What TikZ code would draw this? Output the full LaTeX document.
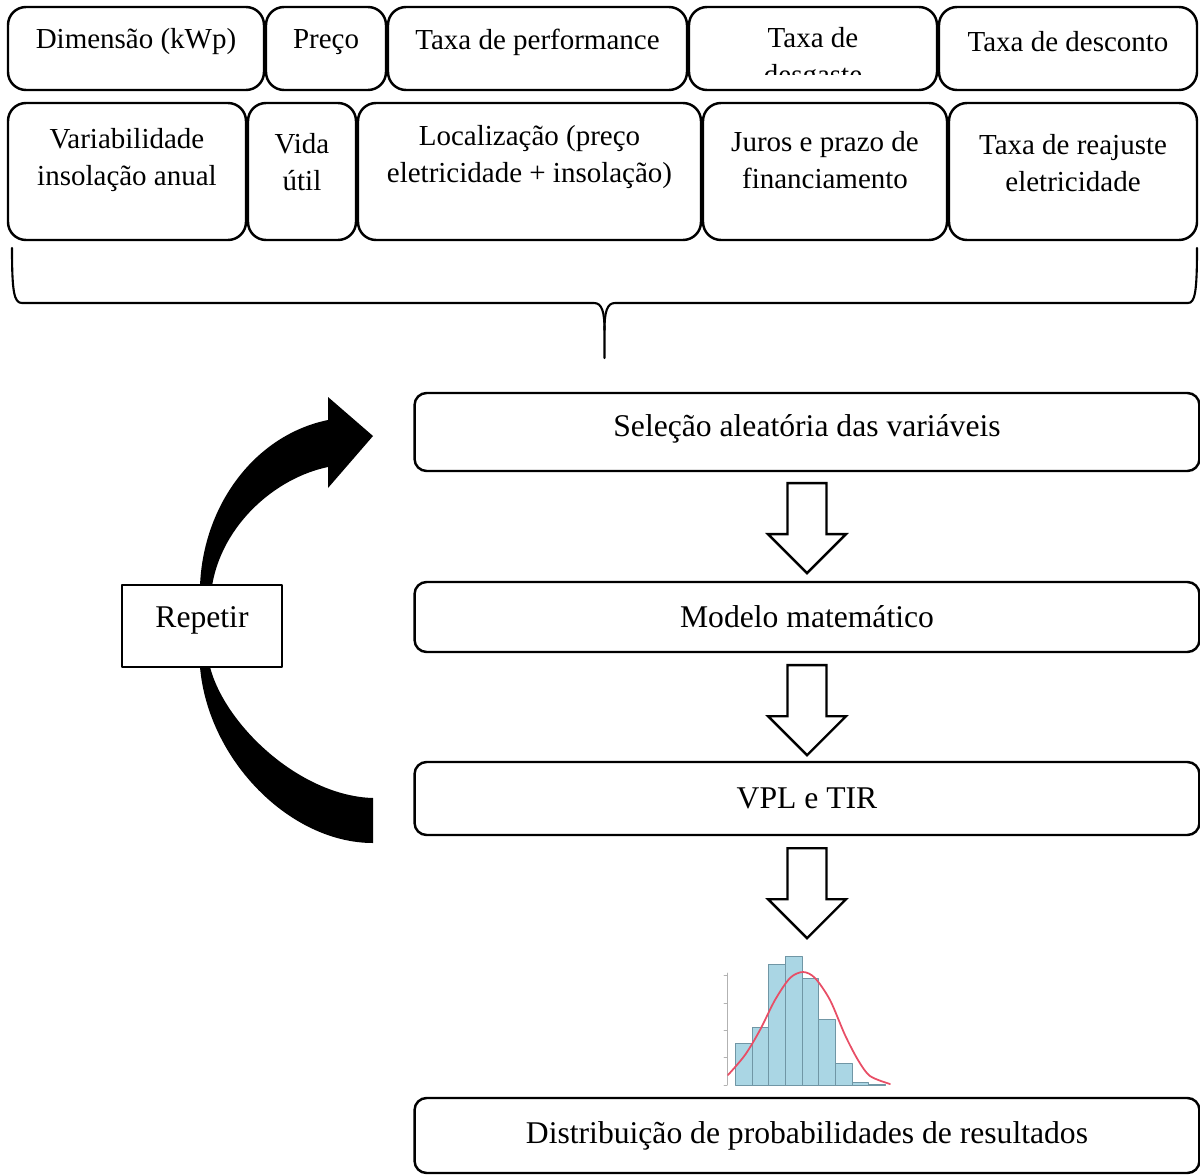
\documentclass[tikz,border=0pt]{standalone}
\usepackage{fontspec}
\setmainfont{Liberation Serif}
\usetikzlibrary{calc}
\definecolor{barblue}{RGB}{170,214,228}
\definecolor{baredge}{RGB}{112,150,165}
\definecolor{curvered}{RGB}{232,78,102}
\tikzset{
  box/.style={draw, line width=1.4pt, rounded corners=0.36cm},
  lbl/.style={align=center, font=\fontsize{16.5}{21}\selectfont, inner sep=0pt},
  stage/.style={draw, line width=1.4pt, rounded corners=0.24cm, minimum width=15.7cm, font=\fontsize{18}{22}\selectfont},
  hollow/.style={draw, line width=1.4pt, fill=white, line join=miter},
  blockarr/.pic={\draw[hollow] (-19.5,0)--(-19.5,51)--(-39,51)--(0,90)--(39,51)--(19.5,51)--(19.5,0)--cycle;}
}
\begin{document}
\begin{tikzpicture}[x=0.02cm, y=-0.02cm, line cap=round, line join=round]
\useasboundingbox (0,0) rectangle (1200,1176);
% variaveis de entrada
\foreach \a/\b/\t [count=\i] in {8/264/Dimensão (kWp), 266/386/Preço, 388/687/Taxa de performance, 939/1197/Taxa de desconto}
  \draw[box] (\a,7) rectangle (\b,90) node[lbl] (v\i) at ({(\a+\b)/2},42) {\t};
\draw[box] (689,7) rectangle (937,90);
\begin{scope}
  \clip (689,7) rectangle (937,75);
  \node[lbl] (v5) at (813,59) {Taxa de\\desgaste};
\end{scope}
\foreach \a/\b/\c/\t [count=\i] in {8/246/160/{Variabilidade\\insolação anual}, 248/356/162/{Vida\\útil}, 358/701/157/{Localização (preço\\eletricidade + insolação)}, 703/947/160/{Juros e prazo de\\financiamento}, 949/1197/163/{Taxa de reajuste\\eletricidade}}
  \draw[box] (\a,103) rectangle (\b,240) node[lbl] (w\i) at ({(\a+\b)/2},\c) {\t};
% chave
\draw[line width=1.2pt] (12,248) .. controls (12,292) and (14,303) .. (22,303) -- (594,303) .. controls (602,303) and (604.5,312) .. (604.5,330) -- (604.5,358);
\draw[line width=1.2pt] (1197,248) .. controls (1197,292) and (1195,303) .. (1188,303) -- (615,303) .. controls (607,303) and (604.5,312) .. (604.5,330);
% etapas
\node[stage, minimum height=1.56cm, text depth=0.25cm] (sel) at (807,432) {Seleção aleatória das variáveis};
\node[stage, minimum height=1.4cm] (mod) at (807,617) {Modelo matemático};
\node[stage, minimum height=1.46cm] (vpl) at (807,798.5) {VPL e TIR};
\node[stage, minimum height=1.5cm] (dist) at (807,1135.5) {Distribuição de probabilidades de resultados};
\pic at ($(sel.south)+(0,11)$) {blockarr};
\pic at ($(mod.south)+(0,12)$) {blockarr};
\pic at ($(vpl.south)+(0,12)$) {blockarr};
% histograma
\foreach \l/\r/\h in {735/752/1043, 752/768/1027, 768/785/964, 785/802/956, 802/818/978, 818/835/1019, 835/852/1063, 852/868/1082, 868/885/1084}
  \draw[baredge, fill=barblue, line width=0.4pt] (\l,1085) rectangle (\r,\h);
\draw[gray!60, line width=0.5pt] (727,973) -- (727,1085);
\foreach \y in {975,1003,1030,1057,1085} \draw[gray!60, line width=0.5pt] (724,\y) -- (727,\y);
\draw[curvered, line width=1pt] plot[smooth] coordinates {(728,1075) (745,1055) (760,1030) (775,1000) (790,978) (803,972) (815,978) (830,1000) (845,1035) (858,1060) (870,1076) (890,1084)};
% repetir
\fill (200,586) .. controls (203,505) and (255,435) .. (328,420) -- (328,397) -- (373,436) -- (328,488) -- (328,467) .. controls (275,478) and (222,525) .. (212,586) -- cycle;
\fill (200,667) .. controls (208,760) and (290,843) .. (373,843) -- (373,798) .. controls (300,796) and (225,725) .. (210,667) -- cycle;
\node[draw, line width=0.8pt, fill=white, minimum width=3.2cm, minimum height=1.64cm, text depth=0.36cm, font=\fontsize{18}{22}\selectfont] (rep) at (202,626) {Repetir};
\end{tikzpicture}
\end{document}
